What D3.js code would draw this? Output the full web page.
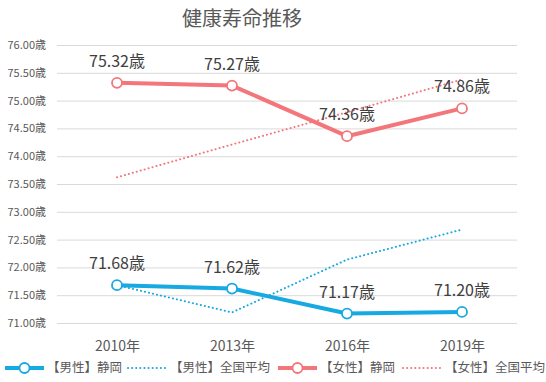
<!DOCTYPE html>
<html><head><meta charset="utf-8">
<script src="https://cdn.jsdelivr.net/npm/d3@7"></script>
<style>body{margin:0;background:#fff}svg{display:block}</style>
</head><body>
<script>
const years = ["2010年","2013年","2016年","2019年"];
const maleShizuoka = [71.68, 71.62, 71.17, 71.20];
const maleNational = [71.68, 71.19, 72.14, 72.68];
const femaleShizuoka = [75.32, 75.27, 74.36, 74.86];
const femaleNational = [73.62, 74.21, 74.79, 75.38];
const yTicks = [71.0,71.5,72.0,72.5,73.0,73.5,74.0,74.5,75.0,75.5,76.0];
const legendNames = ["【男性】静岡","【男性】全国平均","【女性】静岡","【女性】全国平均"];

const W=546,H=382;
const BLUE="#17a9e1", PINK="#f2767a";
const font="'Noto Sans CJK JP','Noto Sans',sans-serif";
const svg=d3.select("body").append("svg").attr("width",W).attr("height",H).style("font-family",font);

const x=d3.scalePoint().domain(years).range([117,462]);
const y=d3.scaleLinear().domain([71,76]).range([323,45]);

svg.append("text").attr("x",242).attr("y",26).attr("text-anchor","middle")
  .attr("font-size",20).attr("fill","#595959").text("健康寿命推移");

// grid
const yAxis=d3.axisLeft(y).tickValues(yTicks).tickSize(-460).tickFormat(d=>d3.format(".2f")(d)+"歳");
const gy=svg.append("g").attr("transform","translate(57,0)").call(yAxis);
gy.select(".domain").remove();
gy.selectAll(".tick line").attr("stroke","#d9d9d9").attr("stroke-width",1);
gy.selectAll(".tick text").attr("x",-11).attr("fill","#595959").attr("font-size",11).style("font-family",font);

const xAxis=d3.axisBottom(x).tickSize(0);
const gx=svg.append("g").attr("transform","translate(0,323)").call(xAxis);
gx.select(".domain").attr("stroke","#d9d9d9");
gx.selectAll(".tick text").attr("dy",0).attr("y",28).attr("fill","#595959").attr("font-size",14).style("font-family",font);

const line=d3.line().x((d,i)=>x(years[i])).y(d=>y(d));

function dotted(data,color){
  svg.append("path").datum(data).attr("d",line).attr("fill","none").attr("stroke",color)
    .attr("stroke-width",2).attr("stroke-dasharray","0.1 4").attr("stroke-linecap","round");
}
function solid(data,color){
  svg.append("path").datum(data).attr("d",line).attr("fill","none").attr("stroke",color)
    .attr("stroke-width",4).attr("stroke-linejoin","round");
  svg.append("g").selectAll("circle").data(data).join("circle")
    .attr("cx",(d,i)=>x(years[i])).attr("cy",d=>y(d)).attr("r",5)
    .attr("fill","#fff").attr("stroke",color).attr("stroke-width",1.8);
}
dotted(femaleNational,PINK);
dotted(maleNational,BLUE);
solid(femaleShizuoka,PINK);
solid(maleShizuoka,BLUE);

function labels(data){
  svg.append("g").selectAll("text").data(data).join("text")
    .attr("x",(d,i)=>x(years[i])).attr("y",d=>y(d)-16).attr("text-anchor","middle")
    .attr("font-size",16).attr("fill","#404040").text(d=>d3.format(".2f")(d)+"歳");
}
labels(femaleShizuoka);
labels(maleShizuoka);

// legend
const legendX=[5,128,278,403];
const legendColors=[BLUE,BLUE,PINK,PINK];
const legendSolid=[true,false,true,false];
const ly=368;
legendNames.forEach((n,i)=>{
  const g=svg.append("g");
  const x0=legendX[i];
  if(legendSolid[i]){
    g.append("line").attr("x1",x0).attr("x2",x0+39).attr("y1",ly).attr("y2",ly).attr("stroke",legendColors[i]).attr("stroke-width",4);
    g.append("circle").attr("cx",x0+19.5).attr("cy",ly).attr("r",5).attr("fill","#fff").attr("stroke",legendColors[i]).attr("stroke-width",1.8);
  } else {
    g.append("line").attr("x1",x0).attr("x2",x0+39).attr("y1",ly).attr("y2",ly).attr("stroke",legendColors[i]).attr("stroke-width",2)
      .attr("stroke-dasharray","0.1 4").attr("stroke-linecap","round");
  }
  g.append("text").attr("x",x0+42).attr("y",ly).attr("dy","0.35em").attr("font-size",12.5).attr("fill","#595959").text(n);
});
</script>
</body></html>
